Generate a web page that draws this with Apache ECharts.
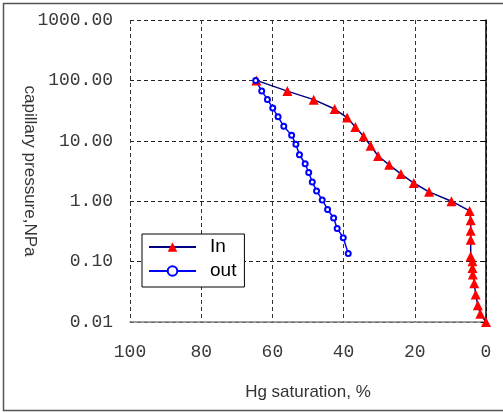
<!DOCTYPE html>
<html>
<head>
<meta charset="utf-8">
<script src="https://cdn.jsdelivr.net/npm/echarts@6/dist/echarts.min.js"></script>
<style>
html,body{margin:0;padding:0;background:#fff;}
#c{width:503px;height:413px;}
</style>
</head>
<body>
<div id="c"></div>
<script>
// Hg saturation (%) and capillary pressure (MPa)
var inSat  = [64.5, 55.8, 48.4, 42.5, 39.0, 36.7, 34.4, 32.4, 30.3, 27.2, 23.9, 20.3, 16.0, 9.7, 4.6, 4.3, 4.3, 4.3, 4.3, 3.8, 3.8, 3.7, 3.3, 2.9, 2.3, 1.6, 0];
var inPres = [100, 66.5, 48, 33.6, 24.2, 16.9, 11.9, 8.3, 5.6, 4.0, 2.83, 2.0, 1.43, 1.0, 0.69, 0.485, 0.325, 0.229, 0.123, 0.101, 0.078, 0.061, 0.044, 0.0285, 0.019, 0.0137, 0.010];
var outSat  = [64.7, 63.0, 61.4, 59.9, 58.4, 56.8, 54.6, 53.4, 52.4, 50.8, 49.8, 48.8, 47.6, 46.0, 44.5, 42.8, 41.8, 40.1, 38.7];
var outPres = [100, 67, 48.5, 34.8, 24.9, 17.4, 12.3, 8.75, 5.87, 4.17, 2.98, 2.08, 1.48, 1.05, 0.73, 0.527, 0.354, 0.249, 0.136];
var seriesNames = ['In', 'out'];
var xTitle = 'Hg saturation, %';
var yTitle = 'capillary pressure,NPa';

function pairs(a, b) { return a.map(function (v, i) { return [v, b[i]]; }); }

var chart = echarts.init(document.getElementById('c'), null, {renderer: 'canvas'});
var labelFont = {fontFamily: '"Liberation Mono"', fontSize: 18, color: '#3a3a3a'};
chart.setOption({
  animation: false,
  backgroundColor: '#fff',
  graphic: [{
    type: 'rect', silent: true, z: -1,
    shape: {x: 3.5, y: 3.5, width: 520, height: 407},
    style: {fill: 'none', stroke: '#555', lineWidth: 1.5}
  }],
  grid: {left: 130, right: 17, top: 20, bottom: 91},
  legend: {
    orient: 'vertical', left: 142, top: 234,
    backgroundColor: '#fff', borderColor: '#000', borderWidth: 1,
    padding: [3, 8, 6, 6], itemGap: 4, itemWidth: 47, itemHeight: 12,
    textStyle: {fontFamily: 'Liberation Sans', fontSize: 19, color: '#000', lineHeight: 20, padding: [0, 0, 0, 9]},
    data: seriesNames
  },
  xAxis: {
    type: 'value', inverse: true, min: 0, max: 100, interval: 20,
    name: xTitle, nameLocation: 'middle', nameGap: 62, nameMoveOverlap: false,
    nameTextStyle: {fontFamily: 'Liberation Sans', fontSize: 17, color: '#333'},
    axisLine: {lineStyle: {color: '#808080', width: 1.5}},
    axisTick: {show: false},
    axisLabel: Object.assign({margin: 21}, labelFont),
    splitLine: {show: true, lineStyle: {color: '#333', type: [4, 3], width: 1}}
  },
  yAxis: {
    type: 'log', logBase: 10, min: 0.01, max: 1000,
    name: yTitle, nameLocation: 'middle', nameGap: 92, nameRotate: -90, nameMoveOverlap: false,
    nameTextStyle: {fontFamily: 'Liberation Sans', fontSize: 17, color: '#333'},
    axisLine: {show: true, lineStyle: {color: '#000', width: 1.5}},
    axisTick: {show: true, length: 5, lineStyle: {color: '#000'}},
    axisLabel: Object.assign({margin: 17, formatter: function (v) { return v.toFixed(2); }}, labelFont),
    splitLine: {show: true, lineStyle: {color: '#222', type: [4, 3], width: 1}}
  },
  series: [{
    name: seriesNames[0], type: 'line', data: pairs(inSat, inPres),
    symbol: 'triangle', symbolSize: 10,
    itemStyle: {color: '#ff0000'},
    lineStyle: {color: '#000080', width: 1.5}
  }, {
    name: seriesNames[1], type: 'line', data: pairs(outSat, outPres),
    symbol: 'emptyCircle', symbolSize: 5,
    itemStyle: {color: '#0000ff', borderWidth: 2},
    lineStyle: {color: '#0000ff', width: 1.5}
  }]
});
</script>
</body>
</html>
